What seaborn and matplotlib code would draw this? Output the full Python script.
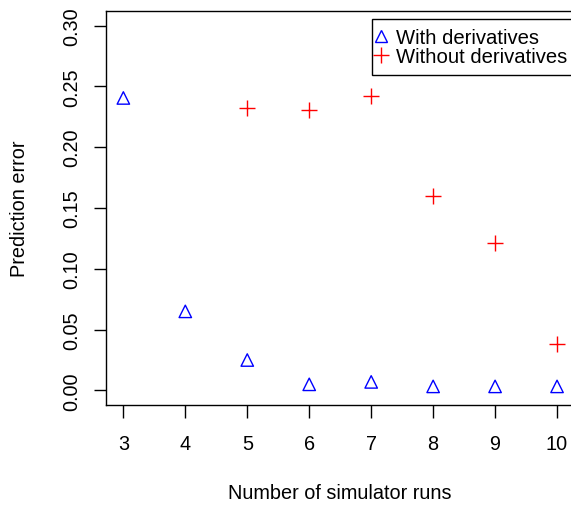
import numpy as np
import pandas as pd
import matplotlib
matplotlib.use("Agg")
import matplotlib.pyplot as plt
from matplotlib.lines import Line2D
import seaborn as sns

runs_with = [3, 4, 5, 6, 7, 8, 9, 10]
err_with = [0.2405, 0.065, 0.025, 0.005, 0.007, 0.0033, 0.0033, 0.0033]
runs_without = [5, 6, 7, 8, 9, 10]
err_without = [0.2325, 0.231, 0.2424, 0.1596, 0.121, 0.0383]
xticks = [3, 4, 5, 6, 7, 8, 9, 10]
yticks = [0.00, 0.05, 0.10, 0.15, 0.20, 0.25, 0.30]
labels = ["With derivatives", "Without derivatives"]

sns.set_style("white")
plt.rcParams["font.family"] = ["Liberation Sans", "DejaVu Sans"]
plt.rcParams["text.color"] = "black"
plt.rcParams["axes.labelcolor"] = "black"
plt.rcParams["xtick.color"] = "black"
plt.rcParams["ytick.color"] = "black"
FS = 14.3
LFS = 14.6

W, H = 571, 506
fig = plt.figure(figsize=(W / 100, H / 100), dpi=100)
left, right, top, bottom = 106, 574.4, 12, 406
ax = fig.add_axes([left / W, 1 - bottom / H, (right - left) / W, (bottom - top) / H])

df_with = pd.DataFrame({"runs": runs_with, "err": err_with})
df_without = pd.DataFrame({"runs": runs_without, "err": err_without})

sns.scatterplot(data=df_with, x="runs", y="err", marker="^", s=80,
                color="blue", linewidth=1.0, ax=ax, clip_on=False)
coll = ax.collections[-1]
coll.set_facecolor("none")
coll.set_edgecolor("blue")
sns.scatterplot(data=df_without, x="runs", y="err", marker="+", s=120,
                color="red", linewidth=1.0, ax=ax, clip_on=False)

ax.set_xlim(2.72, 10.28)
ax.set_ylim(-0.012, 0.312)
ax.set_xticks(xticks)
ax.set_xticklabels([str(v) for v in xticks], fontsize=FS, color="black")
ax.set_yticks(yticks)
ax.set_yticklabels([f"{v:.2f}" for v in yticks], fontsize=FS, rotation=90, va="center",
                   color="black")
ax.tick_params(axis="both", direction="out", length=9, width=1.0, color="black",
               left=True, bottom=True)
ax.tick_params(axis="x", pad=12)
ax.tick_params(axis="y", pad=9)
for name, sp in ax.spines.items():
    sp.set_visible(name != "right")
    sp.set_color("black")
    sp.set_linewidth(1.0)

ax.set_xlabel("Number of simulator runs", fontsize=FS, color="black")
ax.set_ylabel("Prediction error", fontsize=FS, color="black")
ax.xaxis.label.set_va("center")
ax.yaxis.label.set_va("center")
ax.xaxis.set_label_coords(0.5, (bottom - 494) / (bottom - top))
ax.yaxis.set_label_coords((19 - left) / (right - left), 0.5)

handles = [
    Line2D([], [], linestyle="none", marker="^", markersize=9, markerfacecolor="none",
           markeredgecolor="blue", markeredgewidth=1.0),
    Line2D([], [], linestyle="none", marker="+", markersize=11, color="red",
           markeredgewidth=1.0),
]
leg = fig.legend(handles, labels, loc="upper left",
                 bbox_to_anchor=(372 / W, 1 - 20 / H), bbox_transform=fig.transFigure,
                 fontsize=LFS, frameon=True, fancybox=False, borderpad=0.45,
                 labelspacing=0.0, handlelength=0.0, handletextpad=0.72,
                 borderaxespad=0.0)
for t in leg.get_texts():
    t.set_color("black")
leg.get_frame().set_edgecolor("black")
leg.get_frame().set_linewidth(1.0)
leg.get_frame().set_alpha(1)

fig.savefig("out.png", dpi=100)
